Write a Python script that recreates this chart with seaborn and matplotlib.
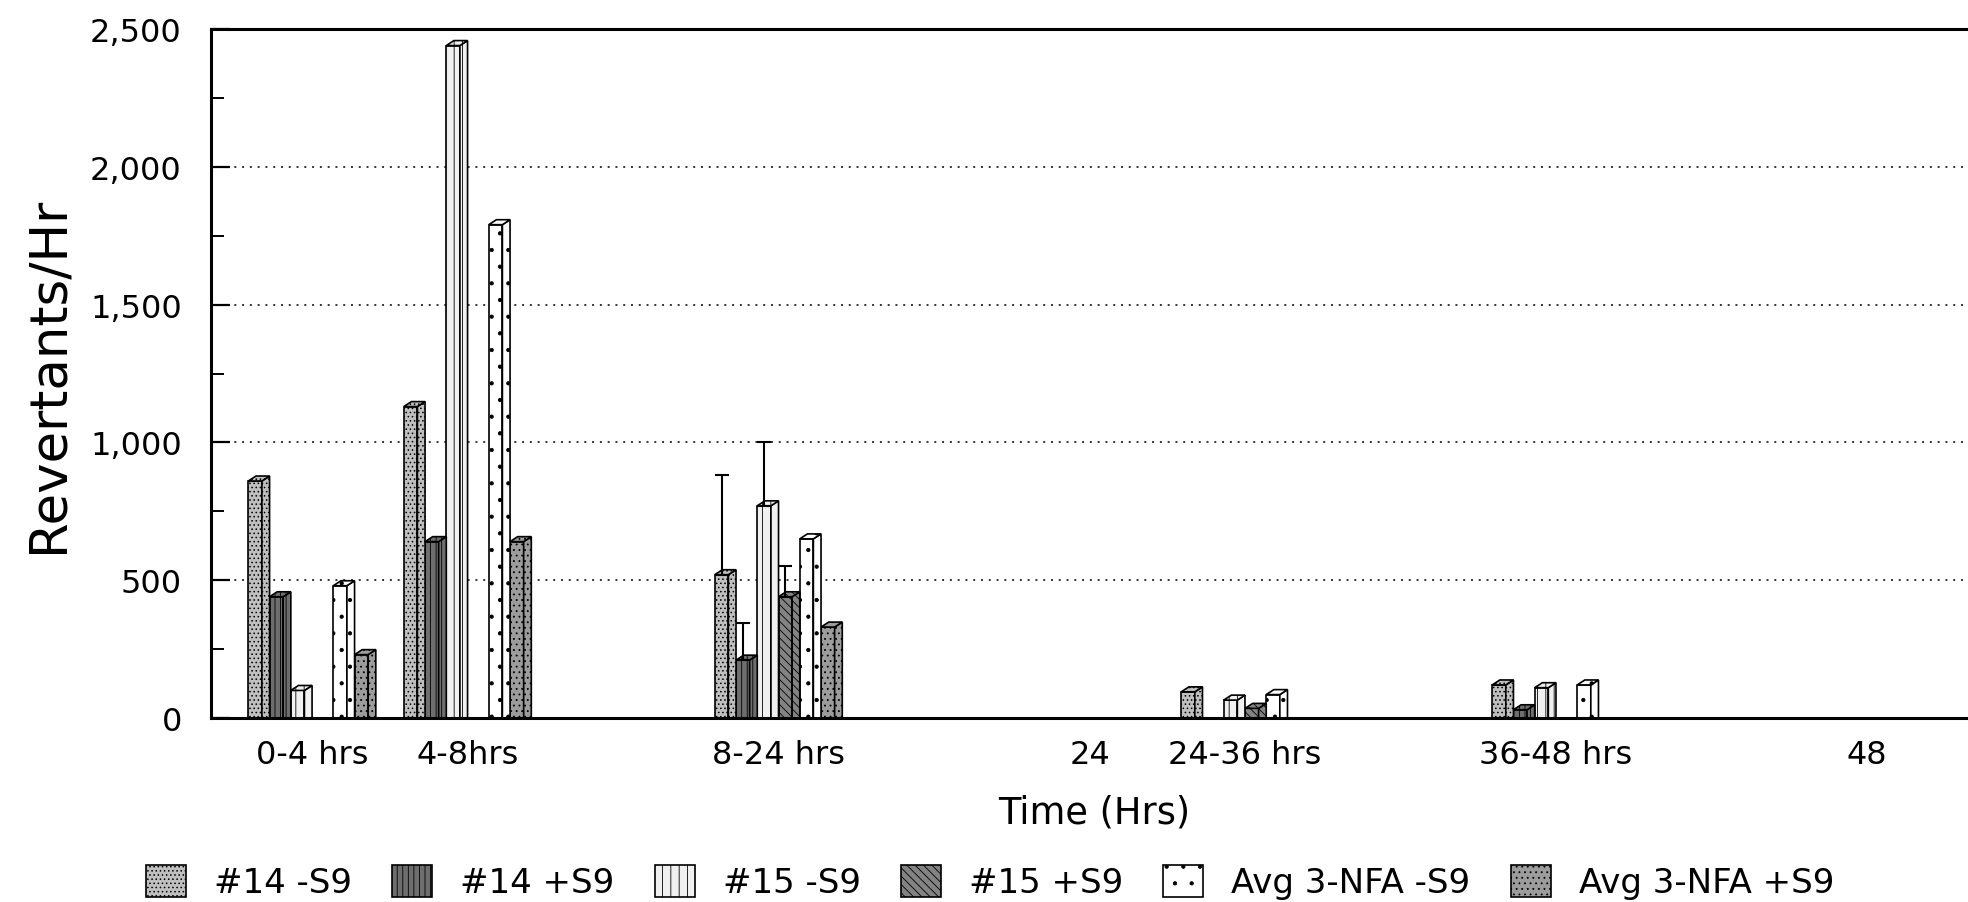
import numpy as np
import pandas as pd
import matplotlib
matplotlib.use("Agg")
import matplotlib.pyplot as plt
from matplotlib.patches import Polygon, Patch
from matplotlib.ticker import FixedLocator, MultipleLocator, StrMethodFormatter
import seaborn as sns

# ---- data -------------------------------------------------------------
periods = ["0-4 hrs", "4-8hrs", "8-24 hrs", "24-36 hrs", "36-48 hrs"]
series_names = ["#14 -S9", "#14 +S9", "#15 -S9", "#15 +S9",
                "Avg 3-NFA -S9", "Avg 3-NFA +S9"]

s14_minus = [860, 1130, 520, 95, 120]
s14_plus = [440, 640, 210, np.nan, 30]
s15_minus = [100, 2440, 770, 65, 110]
s15_plus = [np.nan, np.nan, 440, 35, np.nan]
avg_minus = [480, 1790, 650, 85, 120]
avg_plus = [230, 640, 330, np.nan, np.nan]

# upper ends of the error bars shown for the 8-24 hrs interval
err_top_8_24 = [880, 345, 1000, 550, np.nan, np.nan]

# time axis: interval groups, unlabeled spacer slots and the 24 / 48 h marks
axis_slots = ["0-4 hrs", "4-8hrs", "sp1", "8-24 hrs", "sp2", "24",
              "24-36 hrs", "sp3", "36-48 hrs", "sp4", "48"]
axis_labels = ["0-4 hrs", "4-8hrs", "", "8-24 hrs", "", "24",
               "24-36 hrs", "", "36-48 hrs", "", "48"]
tick_mark_slots = ["sp1", "sp2", "24", "sp3", "sp4", "48"]

# ---- styling of each series (grey-scale fills with patterns) ----------
face_colors = ["#bfbfbf", "#6e6e6e", "#f0f0f0", "#838383", "#ffffff", "#9c9c9c"]
hatches = ["....", "|||", "||", "\\\\\\\\", ".", "..."]

plt.rcParams["font.family"] = ["DejaVu Sans"]
plt.rcParams["hatch.linewidth"] = 0.6

values = dict(zip(series_names,
                  [s14_minus, s14_plus, s15_minus, s15_plus, avg_minus, avg_plus]))
rows = [(p, name, v)
        for name, vals in values.items()
        for p, v in zip(periods, vals) if not np.isnan(v)]
df = pd.DataFrame(rows, columns=["period", "series", "rate"])

W, H = 1968, 903
fig = plt.figure(figsize=(W / 100, H / 100), dpi=100)
fig.patch.set_facecolor("white")
ax = fig.add_axes([211 / W, 1 - 719 / H, 1 - 211 / W, (719 - 30) / H])

group_width = 0.82
sns.barplot(data=df, x="period", y="rate", hue="series",
            order=axis_slots, hue_order=series_names,
            palette=dict(zip(series_names, face_colors)), saturation=1,
            width=group_width, dodge=True, errorbar=None,
            edgecolor="black", linewidth=1.2, legend=False, ax=ax)

# pseudo-3D columns: narrow the front face, add a side and a top face
depth_y = 18
for k, cont in enumerate(ax.containers):
    for bar in cont:
        bar.set_hatch(hatches[k])
        x0, w, h = bar.get_x(), bar.get_width(), bar.get_height()
        front = w * 0.64
        dx = w - front
        bar.set_width(front)
        x1 = x0 + front
        style = dict(closed=True, facecolor=face_colors[k], edgecolor="black",
                     linewidth=1.2, hatch=hatches[k], zorder=bar.get_zorder())
        ax.add_patch(Polygon([(x1, 0), (x1 + dx, 0), (x1 + dx, h + depth_y),
                              (x1, h)], **style))
        ax.add_patch(Polygon([(x0, h), (x0 + dx, h + depth_y),
                              (x1 + dx, h + depth_y), (x1, h)], **style))

# one-sided error bars for the 8-24 hrs interval
slot_w = group_width / len(series_names)
g = axis_slots.index("8-24 hrs")
pi = periods.index("8-24 hrs")
for k, top in enumerate(err_top_8_24):
    if np.isnan(top):
        continue
    base = values[series_names[k]][pi]
    x = g - group_width / 2 + slot_w * k + slot_w * 0.32
    ax.errorbar([x], [base], yerr=[[0], [top - base]], fmt="none",
                ecolor="black", elinewidth=1.5, capsize=5, capthick=1.5,
                zorder=4)

# ---- axes -------------------------------------------------------------
ax.set_xlim(-0.65, 10.65)
ax.set_ylim(0, 2500)
ax.set_facecolor("white")
ax.yaxis.set_major_locator(MultipleLocator(500))
ax.yaxis.set_minor_locator(MultipleLocator(250))
ax.yaxis.set_major_formatter(StrMethodFormatter("{x:,.0f}"))
ax.grid(axis="y", which="major", color="#333333",
        linestyle=(0, (1, 3)), linewidth=1.4)
ax.grid(axis="x", visible=False)
ax.set_axisbelow(True)

ax.set_xticks(range(len(axis_slots)))
ax.set_xticklabels(axis_labels)
ax.xaxis.set_minor_locator(FixedLocator([axis_slots.index(s) for s in tick_mark_slots]))
ax.tick_params(axis="x", which="major", length=0, pad=15, labelsize=23,
               colors="black")
ax.tick_params(axis="x", which="minor", direction="in", length=14,
               width=1.4, bottom=True, top=False)
ax.tick_params(axis="y", which="major", direction="in", length=14,
               width=1.6, pad=21, labelsize=23, left=True, right=False)
ax.tick_params(axis="y", which="minor", direction="in", length=9,
               width=1.4, left=True, right=False)

for s in ["top", "left", "bottom"]:
    ax.spines[s].set_linewidth(2.2)
    ax.spines[s].set_color("black")
ax.spines["right"].set_visible(False)

ax.set_ylabel("Revertants/Hr", fontsize=37)
ax.yaxis.set_label_coords(-0.0785, 0.5)
ax.set_xlabel("Time (Hrs)", fontsize=26.5)
ax.xaxis.set_label_coords((1094 - 211) / 1757, (719 - 823) / 689)
ax.xaxis.label.set_verticalalignment("baseline")

handles = [Patch(facecolor=fc, edgecolor="black", hatch=hh, linewidth=1.2,
                 label=n)
           for n, fc, hh in zip(series_names, face_colors, hatches)]
fig.legend(handles=handles, loc="center", bbox_to_anchor=(990 / W, 1 - 883 / H),
           ncol=6, frameon=False, fontsize=24.5, handlelength=1.18,
           handleheight=1.08, handletextpad=0.82, columnspacing=1.18)

fig.savefig("out.png", dpi=100, facecolor="white")
